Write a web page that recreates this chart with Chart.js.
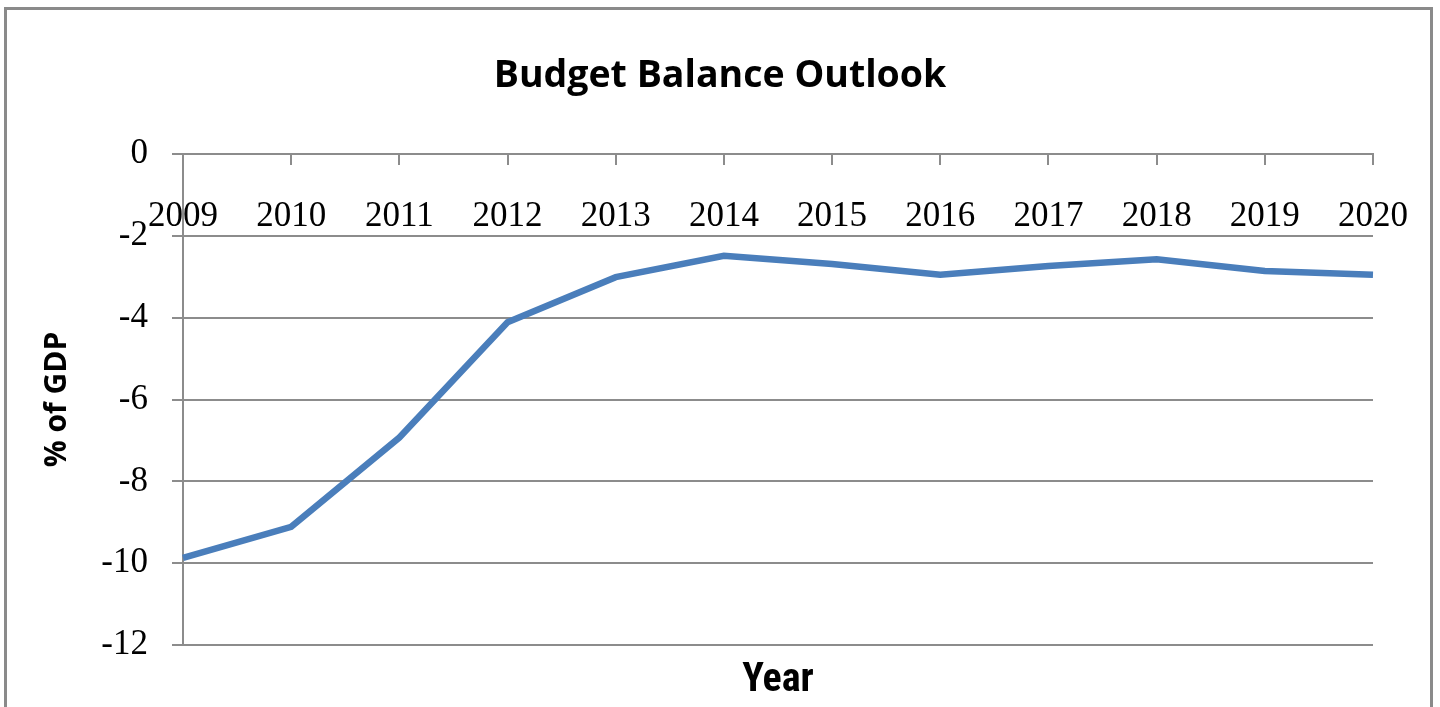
<!DOCTYPE html>
<html>
<head>
<meta charset="utf-8">
<script src="https://cdn.jsdelivr.net/npm/chart.js@4.4.1/dist/chart.umd.min.js"></script>
<style>
  html, body { margin: 0; padding: 0; background: #fff; width: 1440px; height: 707px; overflow: hidden; }
  #frame { position: absolute; left: 4px; top: 7px; width: 1429px; height: 800px; border: 3px solid #8a8a8a; box-sizing: border-box; }
  #wrap { position: absolute; left: 0; top: 0; width: 1440px; height: 707px; }
</style>
</head>
<body>
<div id="frame"></div>
<div id="wrap"><canvas id="c" width="1440" height="707"></canvas></div>
<script>
const years = ['2009','2010','2011','2012','2013','2014','2015','2016','2017','2018','2019','2020'];
const budgetBalance = [-9.87, -9.11, -6.93, -4.11, -3.01, -2.49, -2.69, -2.95, -2.74, -2.57, -2.86, -2.95];
const yTicks = [0, -2, -4, -6, -8, -10, -12];

const NARROW = "'Liberation Sans Narrow', 'Roboto Condensed', 'Liberation Sans', Arial, sans-serif";
const SANS = "'Open Sans', 'Noto Sans', sans-serif";
const SERIF = "'Liberation Serif', 'DejaVu Serif', serif";
const GRID = '#8c8c8c';

new Chart(document.getElementById('c'), {
  type: 'line',
  data: {
    labels: years,
    datasets: [{
      label: 'Budget balance',
      data: budgetBalance,
      borderColor: '#4A7EBB',
      backgroundColor: '#4A7EBB',
      borderWidth: 6.5,
      pointRadius: 0,
      tension: 0,
      clip: false,
      xAxisID: 'x',
      yAxisID: 'y'
    }]
  },
  options: {
    responsive: false,
    animation: false,
    devicePixelRatio: 1,
    layout: { padding: 0 },
    plugins: {
      legend: { display: false },
      tooltip: { enabled: false },
      title: {
        display: true,
        text: 'Budget Balance Outlook',
        color: '#000',
        font: { family: SANS, size: 37.5, weight: 'bold' },
        padding: { top: 54, bottom: 55 }
      }
    },
    scales: {
      x: {
        type: 'category',
        position: { y: 0 },
        offset: false,
        grid: { display: true, drawOnChartArea: false, drawTicks: true, tickLength: 10, color: GRID, lineWidth: 2 },
        border: { display: true, color: GRID, width: 2 },
        ticks: { color: '#000', font: { family: SERIF, size: 35 }, padding: 32, maxRotation: 0, autoSkip: false }
      },
      xb: {
        type: 'category',
        position: 'bottom',
        labels: years,
        grid: { display: false },
        border: { display: false },
        ticks: { display: false },
        title: { display: true, text: 'Year', color: '#000', font: { family: NARROW, size: 40, weight: 'bold' }, padding: { top: 0, bottom: 2 } },
        afterFit: s => { s.height = 62; }
      },
      y: {
        type: 'linear',
        position: 'left',
        min: -12,
        max: 0,
        afterBuildTicks: s => { s.ticks = yTicks.map(v => ({ value: v })); },
        grid: { color: GRID, lineWidth: 2, tickLength: 11, drawTicks: true },
        border: { display: true, color: GRID, width: 2 },
        ticks: { color: '#000', font: { family: SERIF, size: 35 }, padding: 24 },
        title: { display: true, text: '% of GDP', color: '#000', font: { family: SANS, size: 30, weight: 'bold' }, padding: { top: 39, bottom: 0 } },
        afterFit: s => { s.width = 183; }
      },
      yr: {
        type: 'linear',
        position: 'right',
        display: true,
        grid: { display: false },
        border: { display: false },
        ticks: { display: false },
        afterFit: s => { s.width = 65; }
      }
    }
  }
});
</script>
</body>
</html>
